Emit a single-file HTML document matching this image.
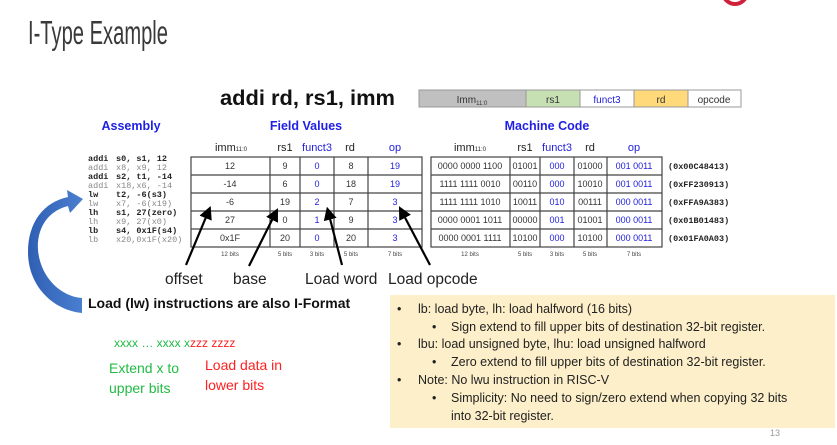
<!DOCTYPE html>
<html><head><meta charset="utf-8"><style>
html,body{margin:0;padding:0;background:#fff;}
svg{display:block;}
.s{font-family:"Liberation Sans",sans-serif;}
.m{font-family:"Liberation Mono",monospace;}
</style></head><body>
<svg width="837" height="445" viewBox="0 0 837 445" xmlns="http://www.w3.org/2000/svg">
<circle cx="735" cy="-8" r="12" fill="none" stroke="#d0213b" stroke-width="4"/>
<text class="s" x="28" y="44" font-size="33" fill="#3a3a3a" textLength="140" lengthAdjust="spacingAndGlyphs">I-Type Example</text>

<text class="s" x="220" y="105" font-size="21" font-weight="bold" fill="#111" textLength="175" lengthAdjust="spacingAndGlyphs">addi rd, rs1, imm</text>

<g stroke="#999" stroke-width="1">
<rect x="419" y="90" width="107" height="17" fill="#c0c0c0"/>
<rect x="526" y="90" width="54" height="17" fill="#c6e0b4"/>
<rect x="580" y="90" width="54" height="17" fill="#fff"/>
<rect x="634" y="90" width="54" height="17" fill="#ffd97a"/>
<rect x="688" y="90" width="53" height="17" fill="#fff"/>
</g>
<g class="s" font-size="10" text-anchor="middle">
<text x="472" y="103" fill="#333">Imm<tspan font-size="6" dy="2">11:0</tspan></text>
<text x="553" y="103" fill="#333">rs1</text>
<text x="607" y="103" fill="#2222dd">funct3</text>
<text x="661" y="103" fill="#333">rd</text>
<text x="714" y="103" fill="#333">opcode</text>
</g>

<g class="s" font-size="12.5" font-weight="bold" fill="#1f1fe6" text-anchor="middle">
<text x="131" y="130">Assembly</text>
<text x="306" y="130">Field Values</text>
<text x="547" y="130">Machine Code</text>
</g>

<g class="s" font-size="11" text-anchor="middle" fill="#222">
<text x="231" y="151">imm<tspan font-size="6">11:0</tspan></text>
<text x="285" y="151">rs1</text>
<text x="317" y="151" fill="#2222dd">funct3</text>
<text x="350" y="151">rd</text>
<text x="395" y="151" fill="#2222dd">op</text>
<text x="470" y="151">imm<tspan font-size="6">11:0</tspan></text>
<text x="525" y="151">rs1</text>
<text x="557" y="151" fill="#2222dd">funct3</text>
<text x="590" y="151">rd</text>
<text x="634" y="151" fill="#2222dd">op</text>
</g>

<g stroke="#444" stroke-width="1.2" fill="none">
<rect x="191" y="157" width="231" height="90"/>
<line x1="191" y1="175" x2="422" y2="175"/><line x1="191" y1="193" x2="422" y2="193"/>
<line x1="191" y1="211" x2="422" y2="211"/><line x1="191" y1="229" x2="422" y2="229"/>
<line x1="270" y1="157" x2="270" y2="247"/><line x1="300" y1="157" x2="300" y2="247"/>
<line x1="334" y1="157" x2="334" y2="247"/><line x1="368" y1="157" x2="368" y2="247"/>
<rect x="431" y="157" width="231" height="90"/>
<line x1="431" y1="175" x2="662" y2="175"/><line x1="431" y1="193" x2="662" y2="193"/>
<line x1="431" y1="211" x2="662" y2="211"/><line x1="431" y1="229" x2="662" y2="229"/>
<line x1="510" y1="157" x2="510" y2="247"/><line x1="540" y1="157" x2="540" y2="247"/>
<line x1="574" y1="157" x2="574" y2="247"/><line x1="607" y1="157" x2="607" y2="247"/>
</g>
<g class="s" font-size="9" text-anchor="middle" fill="#333">
<text x="230" y="169">12</text><text x="285" y="169">9</text><text x="317" y="169" fill="#2222dd">0</text><text x="351" y="169">8</text><text x="395" y="169" fill="#2222dd">19</text>
<text x="230" y="187">-14</text><text x="285" y="187">6</text><text x="317" y="187" fill="#2222dd">0</text><text x="351" y="187">18</text><text x="395" y="187" fill="#2222dd">19</text>
<text x="230" y="205">-6</text><text x="285" y="205">19</text><text x="317" y="205" fill="#2222dd">2</text><text x="351" y="205">7</text><text x="395" y="205" fill="#2222dd">3</text>
<text x="230" y="223">27</text><text x="285" y="223">0</text><text x="317" y="223" fill="#2222dd">1</text><text x="351" y="223">9</text><text x="395" y="223" fill="#2222dd">3</text>
<text x="230" y="241">0x1F</text><text x="285" y="241">20</text><text x="317" y="241" fill="#2222dd">0</text><text x="351" y="241">20</text><text x="395" y="241" fill="#2222dd">3</text>

<text x="470" y="169">0000 0000 1100</text><text x="525" y="169">01001</text><text x="557" y="169" fill="#2222dd">000</text><text x="590" y="169">01000</text><text x="634" y="169" fill="#2222dd">001 0011</text>
<text x="470" y="187">1111 1111 0010</text><text x="525" y="187">00110</text><text x="557" y="187" fill="#2222dd">000</text><text x="590" y="187">10010</text><text x="634" y="187" fill="#2222dd">001 0011</text>
<text x="470" y="205">1111 1111 1010</text><text x="525" y="205">10011</text><text x="557" y="205" fill="#2222dd">010</text><text x="590" y="205">00111</text><text x="634" y="205" fill="#2222dd">000 0011</text>
<text x="470" y="223">0000 0001 1011</text><text x="525" y="223">00000</text><text x="557" y="223" fill="#2222dd">001</text><text x="590" y="223">01001</text><text x="634" y="223" fill="#2222dd">000 0011</text>
<text x="470" y="241">0000 0001 1111</text><text x="525" y="241">10100</text><text x="557" y="241" fill="#2222dd">000</text><text x="590" y="241">10100</text><text x="634" y="241" fill="#2222dd">000 0011</text>
</g>
<g class="s" font-size="6" text-anchor="middle" fill="#444">
<text x="230" y="256">12 bits</text><text x="285" y="256">5 bits</text><text x="317" y="256">3 bits</text><text x="351" y="256">5 bits</text><text x="395" y="256">7 bits</text>
<text x="470" y="256">12 bits</text><text x="525" y="256">5 bits</text><text x="557" y="256">3 bits</text><text x="590" y="256">5 bits</text><text x="634" y="256">7 bits</text>
</g>
<g class="m" font-size="8.5" font-weight="bold" fill="#222">
<text x="668" y="169">(0x00C48413)</text><text x="668" y="187">(0xFF230913)</text><text x="668" y="205">(0xFFA9A383)</text><text x="668" y="223">(0x01B01483)</text><text x="668" y="241">(0x01FA0A03)</text>
</g>

<g class="m" font-size="8.5">
<g fill="#222" font-weight="bold">
<text x="88" y="161">addi</text><text x="116" y="161">s0, s1, 12</text>
<text x="88" y="179">addi</text><text x="116" y="179">s2, t1, -14</text>
<text x="88" y="197">lw</text><text x="116" y="197">t2, -6(s3)</text>
<text x="88" y="215">lh</text><text x="116" y="215">s1, 27(zero)</text>
<text x="88" y="233">lb</text><text x="116" y="233">s4, 0x1F(s4)</text>
</g>
<g fill="#888">
<text x="88" y="170">addi</text><text x="116" y="170">x8, x9, 12</text>
<text x="88" y="188">addi</text><text x="116" y="188">x18,x6, -14</text>
<text x="88" y="206">lw</text><text x="116" y="206">x7, -6(x19)</text>
<text x="88" y="224">lh</text><text x="116" y="224">x9, 27(x0)</text>
<text x="88" y="242">lb</text><text x="116" y="242">x20,0x1F(x20)</text>
</g>
</g>

<defs><marker id="ah" markerWidth="6" markerHeight="6" refX="4" refY="3" orient="auto" markerUnits="strokeWidth"><path d="M0,0 L6,3 L0,6 Z" fill="#000"/></marker></defs>
<g stroke="#000" stroke-width="2.2" marker-end="url(#ah)">
<line x1="186" y1="265" x2="209" y2="210"/>
<line x1="249" y1="266" x2="276" y2="212"/>
<line x1="342" y1="265" x2="328" y2="211"/>
<line x1="430" y1="265" x2="401" y2="210"/>
</g>
<g class="s" font-size="15.5" fill="#222">
<text x="165" y="284">offset</text><text x="233" y="284">base</text><text x="305" y="284">Load word</text><text x="388" y="284">Load opcode</text>
</g>

<defs><linearGradient id="bg" x1="0" y1="0" x2="1" y2="0"><stop offset="0" stop-color="#2f5fb3"/><stop offset="1" stop-color="#4a7fd0"/></linearGradient></defs>
<path d="M82,313 L82,298 C56,296 36,270 38,242 C40,222 52,210 68,206 L70,213 L83,199 L67,190 L68,197 C44,202 28,222 28,252 C28,285 52,310 82,313 Z" fill="url(#bg)"/>

<text class="s" x="88" y="308" font-size="14" font-weight="bold" fill="#111">Load (lw) instructions are also I-Format</text>
<text class="s" x="114" y="347" font-size="12"><tspan fill="#22bb44">xxxx … xxxx x</tspan><tspan fill="#ff2020">zzz zzzz</tspan></text>
<g class="s" font-size="14">
<text x="109" y="373" fill="#22bb44">Extend x to</text>
<text x="109" y="393" fill="#22bb44">upper bits</text>
<text x="205" y="370" fill="#ff2020">Load data in</text>
<text x="205" y="390" fill="#ff2020">lower bits</text>
</g>

<rect x="390" y="295" width="445" height="133" fill="#fdefc9"/>
<g class="s" font-size="12.5" fill="#222">
<text x="397" y="313">•</text><text x="418" y="313">lb: load byte,  lh: load halfword (16 bits)</text>
<text x="432" y="331">•</text><text x="451" y="331">Sign extend to fill upper bits of destination 32-bit register.</text>
<text x="397" y="348">•</text><text x="418" y="348">lbu: load unsigned byte, lhu: load unsigned halfword</text>
<text x="432" y="366">•</text><text x="451" y="366">Zero extend to fill upper bits of destination 32-bit register.</text>
<text x="397" y="384">•</text><text x="418" y="384">Note: No lwu instruction in RISC-V</text>
<text x="432" y="402">•</text><text x="451" y="402">Simplicity: No need to sign/zero extend when copying 32 bits</text>
<text x="451" y="420">into 32-bit register.</text>
</g>
<text class="s" x="770" y="436" font-size="9" fill="#999">13</text>
</svg>
</body></html>
